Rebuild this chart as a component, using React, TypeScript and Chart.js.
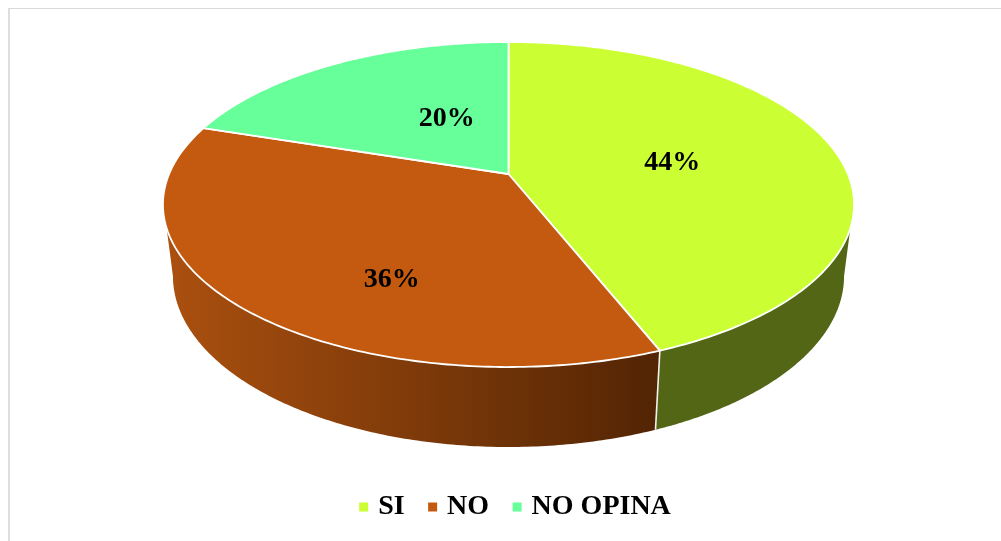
import React, { useEffect, useRef } from "react";
import { Chart, registerables } from "chart.js";

Chart.register(...registerables);

const categories = ["SI", "NO", "NO OPINA"];
const shares = [44, 36, 20];
const topColors = ["#CBFF33", "#C35A10", "#66FF99"];
const sideColors = ["#526616", "#8A4210", "#3D9A5C"];
const labelNudges = [[0, 3], [8, 44], [31, 4]];

// Perspective parameters of the tilted disc and of its lower rim.
const TILT = -0.1877;
const topRim = { x: 508.5, y: 174, a: 339.4, b: 156.8 };
const lowRim = { x: 508.5, y: 243.9, a: 329.6, b: 165 };
const deg = (d: number) => (d * Math.PI) / 180;
const SIDE_FROM = deg(18.9);
const SIDE_TO = deg(161.1);
const LOW_FROM = deg(10.8);
const LOW_TO = deg(169.2);
const STEPS = 160;

const project = (rim: typeof topRim, angle: number, radius = 1) => {
  const u = radius * Math.cos(angle);
  const v = radius * Math.sin(angle);
  const w = 1 + TILT * v;
  return { x: rim.x + (rim.a * u) / w, y: rim.y + (rim.b * v) / w };
};

const traceArc = (ctx: CanvasRenderingContext2D, rim: typeof topRim, from: number, to: number) => {
  for (let i = 0; i <= STEPS; i++) {
    const p = project(rim, from + ((to - from) * i) / STEPS);
    ctx.lineTo(p.x, p.y);
  }
};

// Replaces the flat arcs with an extruded disc, still using the angles the controller computed.
const extrudedPie = {
  id: "extrudedPie",
  beforeDatasetDraw(chart: any, args: any) {
    const { ctx } = chart;
    const arcs = args.meta.data;
    ctx.save();
    ctx.lineJoin = "round";

    arcs.forEach((arc: any, i: number) => {
      const from = Math.max(arc.startAngle, SIDE_FROM);
      const to = Math.min(arc.endAngle, SIDE_TO);
      if (to <= from) return;
      let fill: string | CanvasGradient = sideColors[i];
      if (i === 1) {
        const g = ctx.createLinearGradient(165, 0, 655, 0);
        g.addColorStop(0, "#AB500F");
        g.addColorStop(1, "#532504");
        fill = g;
      }
      // The lower rim runs on to its widest point so the silhouette stays round.
      const lowFrom = from === SIDE_FROM ? LOW_FROM : from;
      const lowTo = to === SIDE_TO ? LOW_TO : to;
      ctx.beginPath();
      traceArc(ctx, topRim, from, to);
      traceArc(ctx, lowRim, lowTo, lowFrom);
      ctx.closePath();
      ctx.fillStyle = fill;
      ctx.fill();
    });

    arcs.forEach((arc: any) => {
      if (arc.startAngle > SIDE_FROM && arc.startAngle < SIDE_TO) {
        const a = project(topRim, arc.startAngle);
        const b = project(lowRim, arc.startAngle);
        ctx.beginPath();
        ctx.moveTo(a.x, a.y);
        ctx.lineTo(b.x, b.y);
        ctx.strokeStyle = "#F2F2EE";
        ctx.lineWidth = 1.6;
        ctx.stroke();
      }
    });

    arcs.forEach((arc: any, i: number) => {
      ctx.beginPath();
      ctx.moveTo(topRim.x, topRim.y);
      traceArc(ctx, topRim, arc.startAngle, arc.endAngle);
      ctx.closePath();
      ctx.fillStyle = topColors[i];
      ctx.fill();
      ctx.strokeStyle = "#FFFFFF";
      ctx.lineWidth = 1.8;
      ctx.stroke();
    });

    ctx.fillStyle = "#000000";
    ctx.font = 'bold 28px "Liberation Serif"';
    ctx.textAlign = "center";
    ctx.textBaseline = "middle";
    arcs.forEach((arc: any, i: number) => {
      const p = project(topRim, (arc.startAngle + arc.endAngle) / 2, 0.5);
      ctx.fillText(`${shares[i]}%`, p.x + labelNudges[i][0], p.y + labelNudges[i][1]);
    });

    ctx.restore();
    return false;
  },
};

export default function App() {
  const canvasRef = useRef<HTMLCanvasElement>(null);

  useEffect(() => {
    const chart = new Chart(canvasRef.current as HTMLCanvasElement, {
      type: "pie",
      data: {
        labels: categories,
        datasets: [{ data: shares, backgroundColor: topColors, borderWidth: 0 }],
      },
      options: {
        responsive: false,
        animation: false,
        events: [],
        layout: { padding: { left: 33, bottom: 10 } },
        plugins: {
          tooltip: { enabled: false },
          legend: {
            position: "bottom",
            labels: {
              boxWidth: 1,
              boxHeight: 1,
              padding: 27.5,
              color: "#000000",
              font: { family: '"Liberation Serif"', size: 28, weight: "bold" },
              generateLabels: () =>
                categories.map((text, i) => ({
                  text,
                  fillStyle: topColors[i],
                  strokeStyle: topColors[i],
                  lineWidth: 8,
                  hidden: false,
                  index: i,
                })),
            },
          },
        },
      },
      plugins: [extrudedPie],
    } as any);
    return () => chart.destroy();
  }, []);

  return (
    <div style={{ position: "fixed", inset: 0, overflow: "hidden", background: "#FFFFFF" }}>
      <div
        style={{
          position: "absolute",
          left: 8,
          top: 8,
          right: 0,
          bottom: 0,
          borderLeft: "2px solid #DEDEDE",
          borderTop: "1px solid #D9D9D9",
        }}
      />
      <canvas
        ref={canvasRef}
        width={1001}
        height={541}
        style={{ position: "absolute", left: 0, top: 0 }}
      />
    </div>
  );
}
